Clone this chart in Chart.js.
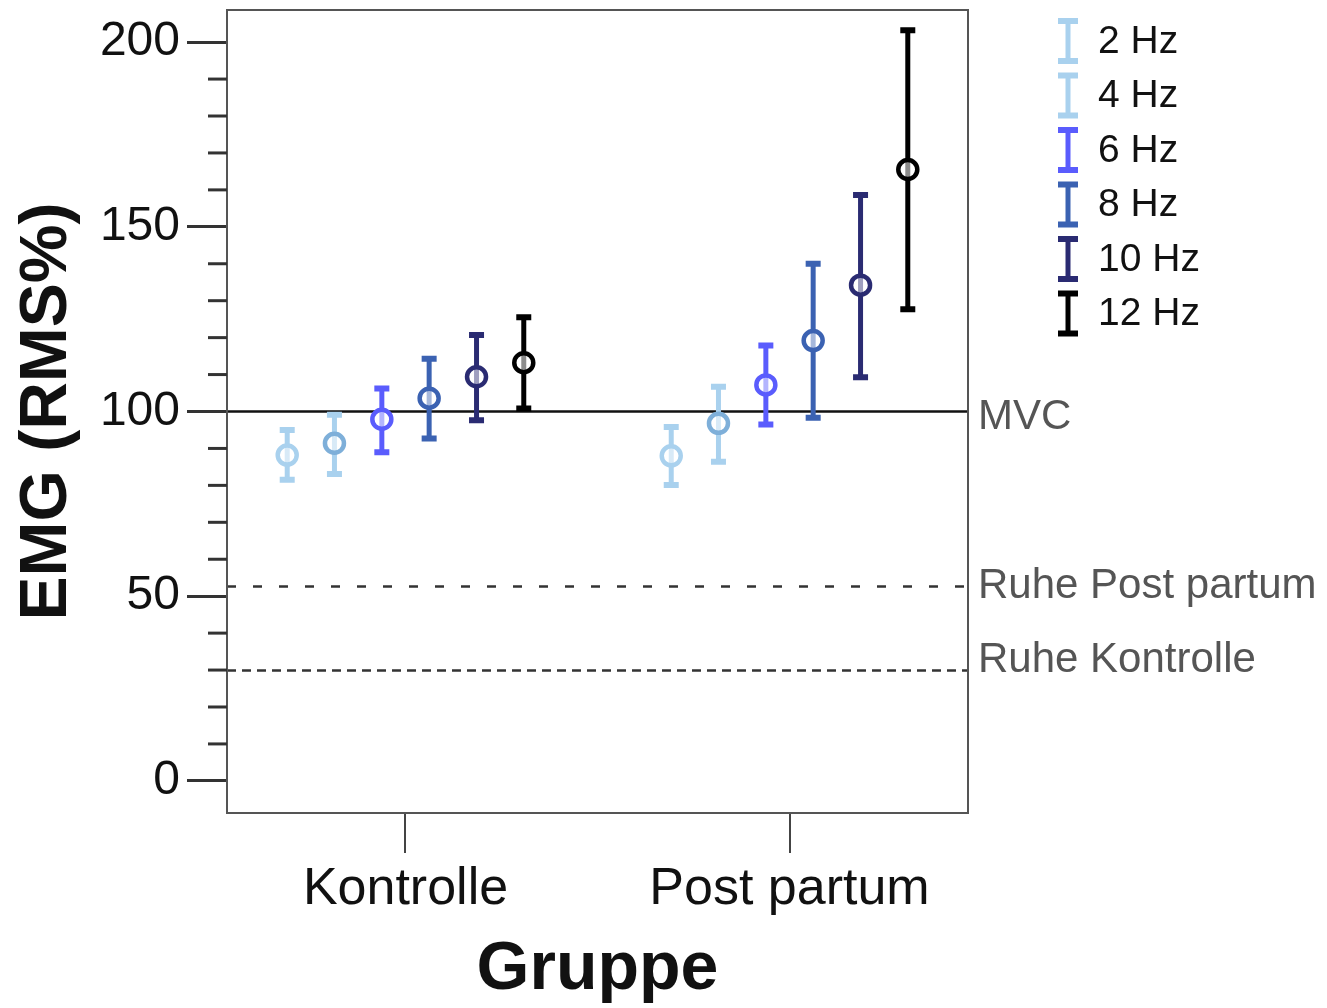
<!DOCTYPE html>
<html>
<head>
<meta charset="utf-8">
<script src="https://cdn.jsdelivr.net/npm/chart.js@4.4.1/dist/chart.umd.min.js"></script>
<style>
  body { margin: 0; background: #fff; }
  canvas { display: block; }
</style>
</head>
<body>
<canvas id="chart" width="1327" height="1008"></canvas>
<script>
// data
const groups = ['Kontrolle', 'Post partum'];
const freqs = ['2 Hz', '4 Hz', '6 Hz', '8 Hz', '10 Hz', '12 Hz'];

const meanKontrolle = [88.2, 91.4, 97.9, 103.6, 109.4, 113.2];
const lowKontrolle  = [81.5, 83.1, 89.0, 92.7, 97.6, 100.8];
const highKontrolle = [95.0, 99.1, 106.2, 114.3, 120.7, 125.5];

const meanPost = [88.0, 96.8, 107.2, 119.2, 134.2, 165.5];
const lowPost  = [80.1, 86.4, 96.5, 98.3, 109.3, 127.7];
const highPost = [95.8, 106.7, 117.9, 140.0, 158.6, 203.2];

const yTicks = [0, 10, 20, 30, 40, 50, 60, 70, 80, 90, 100, 110, 120, 130, 140, 150, 160, 170, 180, 190, 200];
const yMin = -8.7, yMax = 208.7;

const refLines = [
  { label: 'MVC', value: 100, dash: [], color: '#111', dy: 6 },
  { label: 'Ruhe Post partum', value: 52.8, dash: [9, 17], color: '#333', dy: 1 },
  { label: 'Ruhe Kontrolle', value: 30, dash: [9, 6], color: '#333', dy: -10 }
];

// styling
const barColors   = ['#a9d1ee', '#a9d1ee', '#5a5cfd', '#3b62b2', '#2a2b72', '#000000'];
const pointColors = ['#a9d1ee', '#7eafd9', '#5a5cfd', '#3b62b2', '#2a2b72', '#000000'];
const offsets = [-0.308, -0.185, -0.0616, 0.0616, 0.185, 0.308];
const FONT = '"Liberation Sans", Arial, sans-serif';
Chart.defaults.font.family = FONT;

const datasets = freqs.map((f, i) => ({
  label: f,
  data: [
    { x: 0 + offsets[i], y: meanKontrolle[i] },
    { x: 1 + offsets[i], y: meanPost[i] }
  ],
  lows: [lowKontrolle[i], lowPost[i]],
  highs: [highKontrolle[i], highPost[i]],
  barColor: barColors[i],
  pointRadius: 9.5,
  pointBorderWidth: 4.5,
  pointBorderColor: pointColors[i],
  pointBackgroundColor: 'rgba(255,255,255,0.55)',
  showLine: false
}));

const extras = {
  id: 'extras',
  beforeDatasetsDraw(chart) {
    const { ctx, chartArea: a, scales: { y } } = chart;
    ctx.save();
    // reference lines
    refLines.forEach(r => {
      const py = Math.round(y.getPixelForValue(r.value)) + 0.5;
      ctx.strokeStyle = r.color;
      ctx.lineWidth = 2.5;
      ctx.setLineDash(r.dash);
      ctx.beginPath();
      ctx.moveTo(a.left, py);
      ctx.lineTo(a.right, py);
      ctx.stroke();
    });
    ctx.setLineDash([]);
    // error bars
    chart.data.datasets.forEach((ds, i) => {
      const meta = chart.getDatasetMeta(i);
      meta.data.forEach((pt, j) => {
        const y1 = y.getPixelForValue(ds.lows[j]);
        const y2 = y.getPixelForValue(ds.highs[j]);
        ctx.strokeStyle = ds.barColor;
        ctx.lineWidth = 5;
        ctx.beginPath();
        ctx.moveTo(pt.x, y1);
        ctx.lineTo(pt.x, y2);
        ctx.stroke();
        ctx.lineWidth = 6;
        ctx.beginPath();
        ctx.moveTo(pt.x - 7.5, y1); ctx.lineTo(pt.x + 7.5, y1);
        ctx.moveTo(pt.x - 7.5, y2); ctx.lineTo(pt.x + 7.5, y2);
        ctx.stroke();
      });
    });
    ctx.restore();
  },
  afterDraw(chart) {
    const { ctx, chartArea: a, scales: { y } } = chart;
    ctx.save();
    // frame
    ctx.strokeStyle = '#555';
    ctx.lineWidth = 2;
    ctx.strokeRect(a.left, a.top, a.right - a.left, a.bottom - a.top);
    // minor y ticks
    ctx.strokeStyle = '#333';
    ctx.lineWidth = 3;
    yTicks.forEach(v => {
      if (v % 50 === 0) return;
      const py = y.getPixelForValue(v);
      ctx.beginPath();
      ctx.moveTo(a.left - 19, py);
      ctx.lineTo(a.left, py);
      ctx.stroke();
    });
    // reference line labels
    ctx.fillStyle = '#555';
    ctx.font = '42px ' + FONT;
    ctx.textBaseline = 'middle';
    ctx.textAlign = 'left';
    refLines.forEach(r => {
      ctx.fillText(r.label, a.right + 10, y.getPixelForValue(r.value) + r.dy);
    });
    // legend
    ctx.font = '39px ' + FONT;
    ctx.fillStyle = '#111';
    const lx = 1068, ly0 = 41, step = 54.5;
    chart.data.datasets.forEach((ds, i) => {
      const cy = ly0 + i * step;
      ctx.strokeStyle = ds.barColor;
      ctx.lineWidth = 5;
      ctx.beginPath();
      ctx.moveTo(lx, cy - 21); ctx.lineTo(lx, cy + 21);
      ctx.stroke();
      ctx.lineWidth = 6;
      ctx.beginPath();
      ctx.moveTo(lx - 10, cy - 20); ctx.lineTo(lx + 10, cy - 20);
      ctx.moveTo(lx - 10, cy + 20); ctx.lineTo(lx + 10, cy + 20);
      ctx.stroke();
      ctx.fillText(ds.label, lx + 30, cy + 1);
    });
    ctx.restore();
  }
};

new Chart(document.getElementById('chart'), {
  type: 'scatter',
  data: { datasets },
  plugins: [extras],
  options: {
    responsive: false,
    animation: false,
    layout: { autoPadding: false, padding: { top: 10, right: 359, left: 0, bottom: 0 } },
    plugins: { legend: { display: false }, tooltip: { enabled: false } },
    scales: {
      x: {
        type: 'linear',
        min: -0.4648,
        max: 1.4648,
        afterFit: s => { s.height = 195; s.paddingLeft = 0; s.paddingRight = 0; },
        afterBuildTicks: s => { s.ticks = groups.map((g, i) => ({ value: i })); },
        ticks: {
          callback: v => groups[v],
          font: { size: 52 },
          color: '#111',
          padding: 5,
          maxRotation: 0,
          autoSkip: false
        },
        grid: { drawOnChartArea: false, tickLength: 40, color: '#444', lineWidth: 2 },
        border: { display: false },
        title: {
          display: true,
          text: 'Gruppe',
          color: '#111',
          font: { size: 68, weight: 'bold', lineHeight: 1 },
          padding: { top: 0, bottom: 4 }
        }
      },
      y: {
        min: yMin,
        max: yMax,
        // labels sit well inside the range, so no extra room above/below
        afterFit: s => { s.width = 227; s.paddingTop = 0; s.paddingBottom = 0; },
        afterBuildTicks: s => { s.ticks = yTicks.map(v => ({ value: v })); },
        ticks: {
          callback: v => (v % 50 === 0 ? String(v) : null),
          font: { size: 48 },
          color: '#111',
          padding: 7,
          autoSkip: false
        },
        grid: {
          drawOnChartArea: false,
          tickLength: 40,
          lineWidth: 3,
          color: c => (c.tick && c.tick.value % 50 === 0 ? '#333' : 'rgba(0,0,0,0)')
        },
        border: { display: false },
        title: {
          display: true,
          text: 'EMG (RMS%)',
          color: '#111',
          font: { size: 66, weight: 'bold', lineHeight: 1.2 },
          padding: { top: 8, bottom: 0 }
        }
      }
    }
  }
});
</script>
</body>
</html>
